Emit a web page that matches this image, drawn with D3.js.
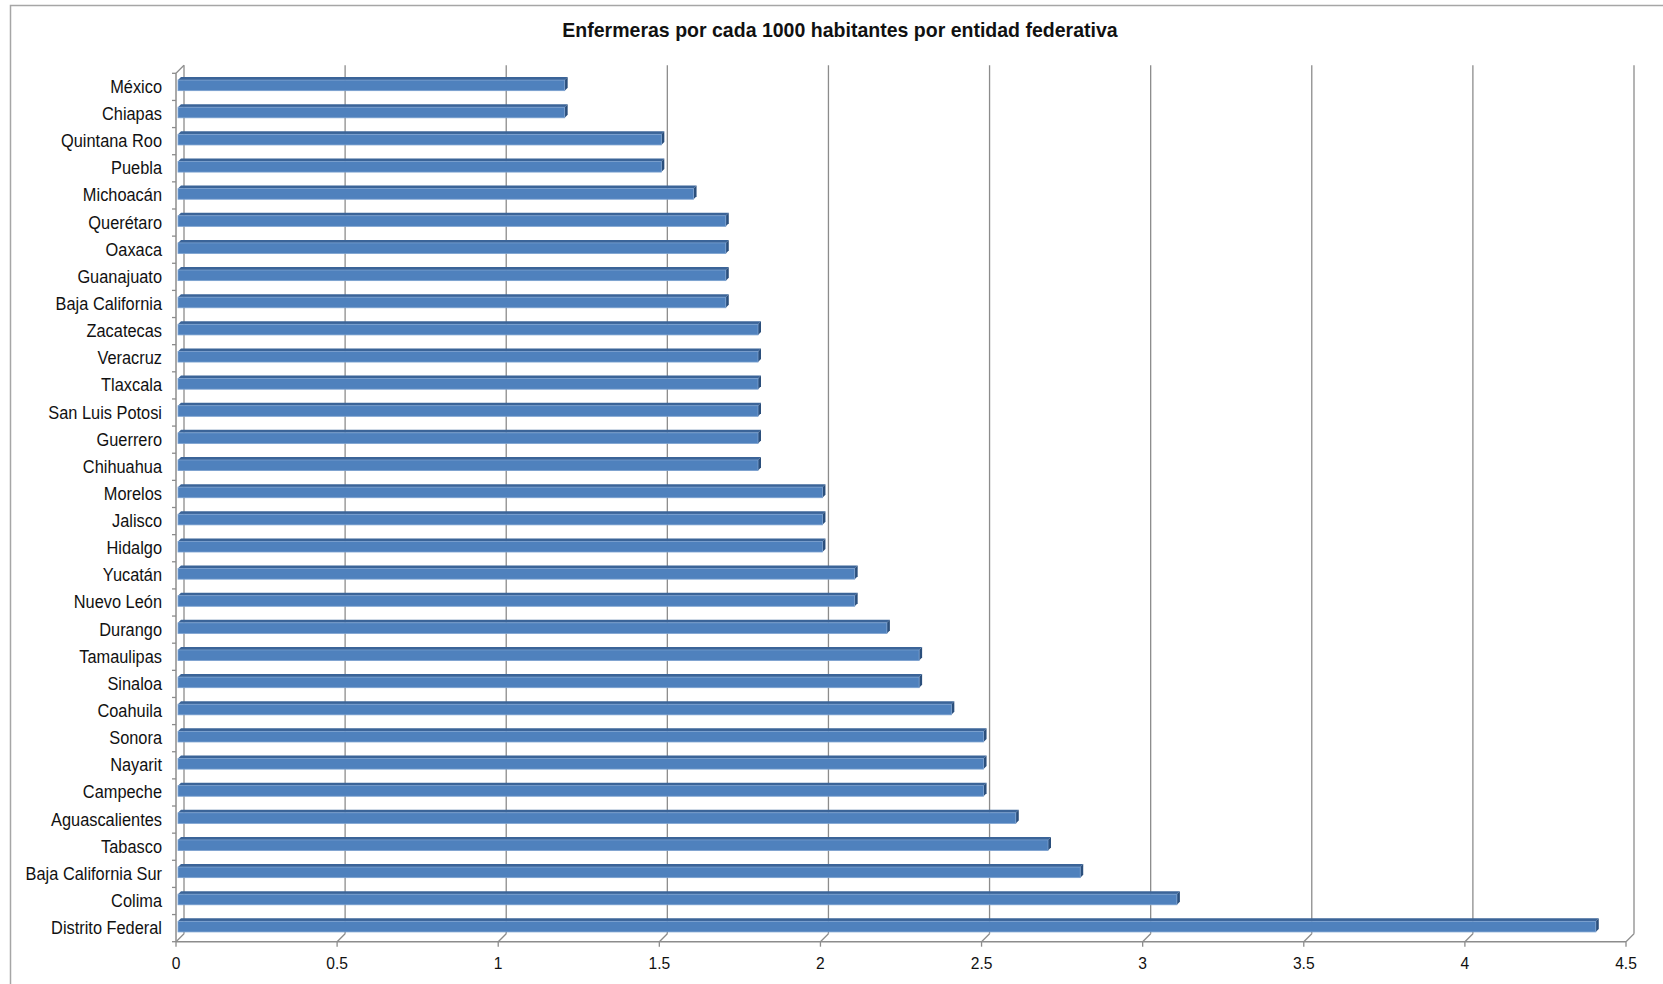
<!DOCTYPE html>
<html>
<head>
<meta charset="utf-8">
<script src="https://cdn.jsdelivr.net/npm/d3@7"></script>
<style>
  html, body { margin: 0; padding: 0; background: #ffffff; overflow: hidden; }
  svg { display: block; }
  text { font-family: "Liberation Sans", Arial, sans-serif; fill: #111; }
</style>
</head>
<body>
<svg id="chart" width="1663" height="984"></svg>
<script>
const title = "Enfermeras por cada 1000 habitantes por entidad federativa";
const categories = ["México","Chiapas","Quintana Roo","Puebla","Michoacán","Querétaro","Oaxaca","Guanajuato","Baja California","Zacatecas","Veracruz","Tlaxcala","San Luis Potosi","Guerrero","Chihuahua","Morelos","Jalisco","Hidalgo","Yucatán","Nuevo León","Durango","Tamaulipas","Sinaloa","Coahuila","Sonora","Nayarit","Campeche","Aguascalientes","Tabasco","Baja California Sur","Colima","Distrito Federal"];
const values = [1.2,1.2,1.5,1.5,1.6,1.7,1.7,1.7,1.7,1.8,1.8,1.8,1.8,1.8,1.8,2.0,2.0,2.0,2.1,2.1,2.2,2.3,2.3,2.4,2.5,2.5,2.5,2.6,2.7,2.8,3.1,4.4];
const xTicks = [0,0.5,1,1.5,2,2.5,3,3.5,4,4.5];
const xTickLabels = ["0","0.5","1","1.5","2","2.5","3","3.5","4","4.5"];

const svg = d3.select("#chart");

// outer frame
svg.append("rect").attr("x", 10.5).attr("y", 5.5).attr("width", 1700).attr("height", 1100)
  .attr("fill", "none").attr("stroke", "#a6a6a6").attr("stroke-width", 1.5);

// title
svg.append("text").attr("transform", "translate(840,37) scale(0.93,1)")
  .attr("text-anchor", "middle").attr("font-weight", "bold").attr("font-size", 21)
  .text(title);

// 3D geometry
const DX = 8, DY = -8;           // depth offset front -> back
const x = d3.scaleLinear().domain([0, 4.5]).range([176, 1626]);
const y = d3.scaleBand().domain(categories).range([73.3, 941.7]).padding(0);
const floorY = y.range()[1];
const topY = y.range()[0];

const grid = svg.append("g");
xTicks.forEach(v => {
  const xf = x(v);
  grid.append("line").attr("x1", xf + DX).attr("x2", xf + DX)
    .attr("y1", topY + DY).attr("y2", floorY + DY)
    .attr("stroke", "#8c8c8c").attr("stroke-width", 1.3);
  grid.append("line").attr("x1", xf + DX).attr("y1", floorY + DY)
    .attr("x2", xf).attr("y2", floorY)
    .attr("stroke", "#8c8c8c").attr("stroke-width", 1.3);
  grid.append("line").attr("x1", xf).attr("x2", xf)
    .attr("y1", floorY).attr("y2", floorY + 5)
    .attr("stroke", "#8c8c8c").attr("stroke-width", 1.3);
});
grid.append("line").attr("x1", x(0)).attr("x2", x(4.5))
  .attr("y1", floorY).attr("y2", floorY)
  .attr("stroke", "#8c8c8c").attr("stroke-width", 1.5);
grid.append("line").attr("x1", x(0)).attr("x2", x(0))
  .attr("y1", topY).attr("y2", floorY)
  .attr("stroke", "#8c8c8c").attr("stroke-width", 1.5);
grid.append("line").attr("x1", x(0)).attr("y1", topY)
  .attr("x2", x(0) + DX).attr("y2", topY + DY)
  .attr("stroke", "#8c8c8c").attr("stroke-width", 1.3);
const boundaries = categories.map(c => y(c)).concat([floorY]);
boundaries.forEach(b => {
  grid.append("line").attr("x1", x(0) - 4).attr("x2", x(0))
    .attr("y1", b).attr("y2", b)
    .attr("stroke", "#8c8c8c").attr("stroke-width", 1.3);
});

// x tick labels
svg.append("g").selectAll("text").data(xTicks).join("text")
  .attr("transform", (d) => `translate(${x(d)},969) scale(0.92,1)`)
  .attr("text-anchor", "middle").attr("font-size", 17)
  .text((d, i) => xTickLabels[i]);

// category labels
svg.append("g").selectAll("text").data(categories).join("text")
  .attr("transform", d => `translate(162,${y(d) + y.bandwidth() / 2 + 6}) scale(0.935,1)`)
  .attr("text-anchor", "end").attr("font-size", 17.5)
  .text(d => d);

// bars (3D)
const d1 = 2;
const depth = 3;
const h = 10.6;
const bars = svg.append("g");
categories.forEach((c, i) => {
  const v = values[i];
  const yc = y(c) + y.bandwidth() / 2 - d1 + 0.5;
  const x0 = x(0) + d1, x1 = x(v) + d1;
  const yTop = yc - h / 2, yBot = yc + h / 2;
  bars.append("path")
    .attr("d", `M${x0},${yTop} L${x0 + depth},${yTop - depth} L${x1 + depth},${yTop - depth} L${x1},${yTop} Z`)
    .attr("fill", "#3b6498");
  bars.append("path")
    .attr("d", `M${x1},${yTop} L${x1 + depth},${yTop - depth} L${x1 + depth},${yBot - depth} L${x1},${yBot} Z`)
    .attr("fill", "#2b4f7c");
  bars.append("rect").attr("x", x0).attr("y", yTop)
    .attr("width", x1 - x0).attr("height", h)
    .attr("fill", "#4f81bd").attr("stroke", "#7aa0cf").attr("stroke-width", 0.8);
});
</script>
</body>
</html>
